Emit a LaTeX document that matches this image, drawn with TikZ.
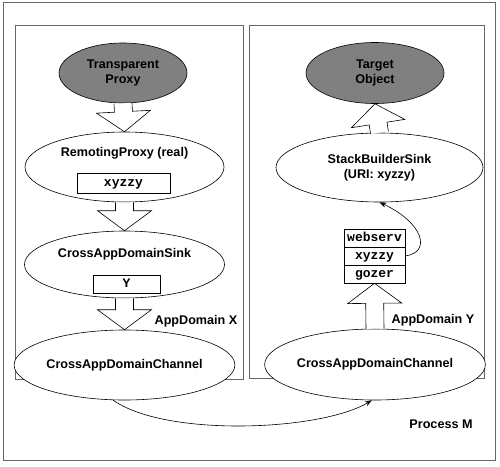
\documentclass[tikz,border=0pt]{standalone}
\usepackage{fontspec}
\setmainfont{Liberation Sans}
\setmonofont{Liberation Mono}
\usepackage{tikz}
\usetikzlibrary{positioning,shapes.geometric,calc,arrows.meta}

\tikzset{
  appdomain/.style={draw=black!60, line width=0.9pt},
  obj/.style={ellipse, draw, line width=0.6pt, fill=white, inner sep=0pt,
    font=\fontsize{12.6}{15}\selectfont\bfseries, align=center},
  realobj/.style={obj, fill=black!50},
  objtext/.style={font=\fontsize{12.6}{15}\selectfont\bfseries, inner sep=0pt},
  urlbox/.style={draw, line width=0.6pt, fill=white, inner sep=0pt,
    text height=1.6ex, text depth=0.3ex,
    font=\fontsize{13}{15}\selectfont\ttfamily\bfseries},
  flow/.style={draw, line width=0.6pt, fill=white},
  hop/.style={-{Stealth[length=7pt, width=5pt]}, line width=0.6pt}
}

\begin{document}
\begin{tikzpicture}[x=1pt, y=-1pt]
\useasboundingbox (0,0) rectangle (500,466);

% Process and AppDomains
\draw[appdomain] (3,2) rectangle (495,460);
\draw[appdomain] (15,25) rectangle (243,379);
\draw[appdomain] (249,25) rectangle (484,378);

% AppDomain X
\node[realobj, minimum width=128pt, minimum height=60pt] (tp) at (123,73)
  {Transparent\\Proxy};
\node[obj, minimum width=199pt, minimum height=70pt] (rp) at (124.5,167) {};
\node[objtext] (rp-text) at (124.5,153) {RemotingProxy (real)};
\node[urlbox, minimum width=93pt, minimum height=20pt] (rp-uri) at (123.5,183) {xyzzy};
\node[obj, minimum width=200pt, minimum height=67pt] (sink) at (124.5,264.5) {};
\node[objtext] (sink-text) at (124.5,254) {CrossAppDomainSink};
\node[urlbox, minimum width=67pt, minimum height=18pt] (sink-id) at (126.5,284) {Y};
\node[obj, minimum width=199pt, minimum height=70pt] (chx) at (124.5,365)
  {CrossAppDomainChannel};
\node[objtext] (appx) at (196,321) {AppDomain X};

% AppDomain Y
\node[realobj, minimum width=138pt, minimum height=61pt] (target) at (375,73)
  {Target\\Object};
\node[obj, minimum width=207pt, minimum height=69pt] (sbs) at (379.5,167.5)
  {StackBuilderSink\\(URI: xyzzy)};
\foreach \uri [count=\i] in {webserv,xyzzy,gozer}
{
  \node[urlbox, minimum width=61pt, minimum height=18pt]
    (stack-\i) at (374.5,220+18*\i) {\uri};
}
\node[obj, minimum width=198pt, minimum height=71pt] (chy) at (375,364.5)
  {CrossAppDomainChannel};
\node[objtext] (appy) at (433,320) {AppDomain Y};
\node[objtext] (proc) at (441,424) {Process M};

% Block arrows
\foreach \src/\dst in {tp.south/rp.north, rp.south/sink.north,
  sink.south/chx.north, chy.north/stack-3.south, sbs.north/target.south}
{
  \coordinate (head) at ($(\dst)!20pt!(\src)$);
  \filldraw[flow] ($(\src)!9pt!90:(\dst)$) -- ($(head)!9pt!90:(\dst)$)
    -- ($(head)!27pt!90:(\dst)$) -- (\dst) -- ($(head)!27pt!-90:(\dst)$)
    -- ($(head)!9pt!-90:(\dst)$) -- ($(\src)!9pt!-90:(\dst)$);
}

% Message hops
\draw[hop] (chx.252) .. controls +(52,37) and +(-52,31) .. (chy.265);
\draw[hop] (stack-2.east) .. controls +(27,-4) and +(43,20) .. (sbs.south);

\end{tikzpicture}
\end{document}
